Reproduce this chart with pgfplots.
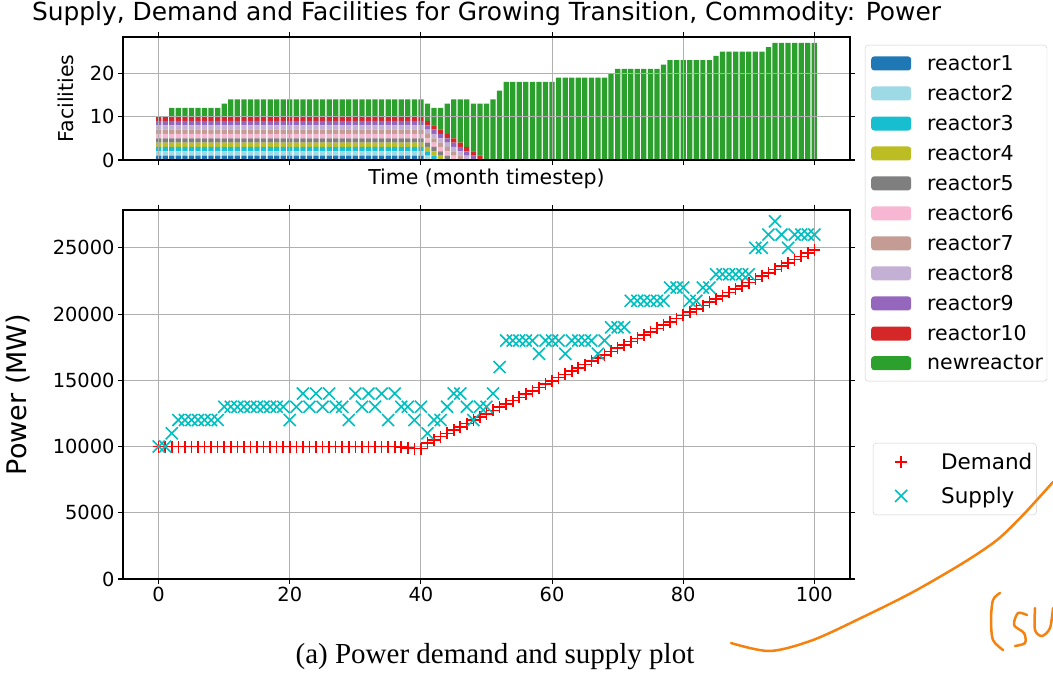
\documentclass[border=0pt]{standalone}
\usepackage{fontspec}
\setmainfont{DejaVu Sans}
\newfontfamily\capfont{Liberation Serif}
\usepackage{pgfplots}
\usepackage{pgfplotstable}
\pgfplotsset{compat=1.18}
\definecolor{cA}{HTML}{1F77B4}
\definecolor{cB}{HTML}{9EDAE5}
\definecolor{cC}{HTML}{17BECF}
\definecolor{cD}{HTML}{BCBD22}
\definecolor{cE}{HTML}{7F7F7F}
\definecolor{cF}{HTML}{F7B6D2}
\definecolor{cG}{HTML}{C49C94}
\definecolor{cH}{HTML}{C5B0D5}
\definecolor{cI}{HTML}{9467BD}
\definecolor{cJ}{HTML}{D62728}
\definecolor{cK}{HTML}{2CA02C}
\definecolor{gridgray}{HTML}{B0B0B0}
\definecolor{leggray}{HTML}{CCCCCC}
\definecolor{supcol}{HTML}{00BFBF}
\definecolor{scrib}{HTML}{F5820F}

\pgfplotstableread{
t r1 r2 r3 r4 r5 r6 r7 r8 r9 r10 new
0 1 1 1 1 1 1 1 1 1 1 0
1 1 1 1 1 1 1 1 1 1 1 0
2 1 1 1 1 1 1 1 1 1 1 2
3 1 1 1 1 1 1 1 1 1 1 2
4 1 1 1 1 1 1 1 1 1 1 2
5 1 1 1 1 1 1 1 1 1 1 2
6 1 1 1 1 1 1 1 1 1 1 2
7 1 1 1 1 1 1 1 1 1 1 2
8 1 1 1 1 1 1 1 1 1 1 2
9 1 1 1 1 1 1 1 1 1 1 2
10 1 1 1 1 1 1 1 1 1 1 3
11 1 1 1 1 1 1 1 1 1 1 4
12 1 1 1 1 1 1 1 1 1 1 4
13 1 1 1 1 1 1 1 1 1 1 4
14 1 1 1 1 1 1 1 1 1 1 4
15 1 1 1 1 1 1 1 1 1 1 4
16 1 1 1 1 1 1 1 1 1 1 4
17 1 1 1 1 1 1 1 1 1 1 4
18 1 1 1 1 1 1 1 1 1 1 4
19 1 1 1 1 1 1 1 1 1 1 4
20 1 1 1 1 1 1 1 1 1 1 4
21 1 1 1 1 1 1 1 1 1 1 4
22 1 1 1 1 1 1 1 1 1 1 4
23 1 1 1 1 1 1 1 1 1 1 4
24 1 1 1 1 1 1 1 1 1 1 4
25 1 1 1 1 1 1 1 1 1 1 4
26 1 1 1 1 1 1 1 1 1 1 4
27 1 1 1 1 1 1 1 1 1 1 4
28 1 1 1 1 1 1 1 1 1 1 4
29 1 1 1 1 1 1 1 1 1 1 4
30 1 1 1 1 1 1 1 1 1 1 4
31 1 1 1 1 1 1 1 1 1 1 4
32 1 1 1 1 1 1 1 1 1 1 4
33 1 1 1 1 1 1 1 1 1 1 4
34 1 1 1 1 1 1 1 1 1 1 4
35 1 1 1 1 1 1 1 1 1 1 4
36 1 1 1 1 1 1 1 1 1 1 4
37 1 1 1 1 1 1 1 1 1 1 4
38 1 1 1 1 1 1 1 1 1 1 4
39 1 1 1 1 1 1 1 1 1 1 4
40 1 1 1 1 1 1 1 1 1 1 4
41 0 1 1 1 1 1 1 1 1 1 4
42 0 0 1 1 1 1 1 1 1 1 4
43 0 0 0 1 1 1 1 1 1 1 5
44 0 0 0 0 1 1 1 1 1 1 7
45 0 0 0 0 0 1 1 1 1 1 9
46 0 0 0 0 0 0 1 1 1 1 10
47 0 0 0 0 0 0 0 1 1 1 11
48 0 0 0 0 0 0 0 0 1 1 11
49 0 0 0 0 0 0 0 0 0 1 12
50 0 0 0 0 0 0 0 0 0 0 13
51 0 0 0 0 0 0 0 0 0 0 14
52 0 0 0 0 0 0 0 0 0 0 16
53 0 0 0 0 0 0 0 0 0 0 18
54 0 0 0 0 0 0 0 0 0 0 18
55 0 0 0 0 0 0 0 0 0 0 18
56 0 0 0 0 0 0 0 0 0 0 18
57 0 0 0 0 0 0 0 0 0 0 18
58 0 0 0 0 0 0 0 0 0 0 18
59 0 0 0 0 0 0 0 0 0 0 18
60 0 0 0 0 0 0 0 0 0 0 18
61 0 0 0 0 0 0 0 0 0 0 19
62 0 0 0 0 0 0 0 0 0 0 19
63 0 0 0 0 0 0 0 0 0 0 19
64 0 0 0 0 0 0 0 0 0 0 19
65 0 0 0 0 0 0 0 0 0 0 19
66 0 0 0 0 0 0 0 0 0 0 19
67 0 0 0 0 0 0 0 0 0 0 19
68 0 0 0 0 0 0 0 0 0 0 19
69 0 0 0 0 0 0 0 0 0 0 20
70 0 0 0 0 0 0 0 0 0 0 21
71 0 0 0 0 0 0 0 0 0 0 21
72 0 0 0 0 0 0 0 0 0 0 21
73 0 0 0 0 0 0 0 0 0 0 21
74 0 0 0 0 0 0 0 0 0 0 21
75 0 0 0 0 0 0 0 0 0 0 21
76 0 0 0 0 0 0 0 0 0 0 21
77 0 0 0 0 0 0 0 0 0 0 22
78 0 0 0 0 0 0 0 0 0 0 23
79 0 0 0 0 0 0 0 0 0 0 23
80 0 0 0 0 0 0 0 0 0 0 23
81 0 0 0 0 0 0 0 0 0 0 23
82 0 0 0 0 0 0 0 0 0 0 23
83 0 0 0 0 0 0 0 0 0 0 23
84 0 0 0 0 0 0 0 0 0 0 23
85 0 0 0 0 0 0 0 0 0 0 24
86 0 0 0 0 0 0 0 0 0 0 25
87 0 0 0 0 0 0 0 0 0 0 25
88 0 0 0 0 0 0 0 0 0 0 25
89 0 0 0 0 0 0 0 0 0 0 25
90 0 0 0 0 0 0 0 0 0 0 25
91 0 0 0 0 0 0 0 0 0 0 25
92 0 0 0 0 0 0 0 0 0 0 25
93 0 0 0 0 0 0 0 0 0 0 26
94 0 0 0 0 0 0 0 0 0 0 27
95 0 0 0 0 0 0 0 0 0 0 27
96 0 0 0 0 0 0 0 0 0 0 27
97 0 0 0 0 0 0 0 0 0 0 27
98 0 0 0 0 0 0 0 0 0 0 27
99 0 0 0 0 0 0 0 0 0 0 27
100 0 0 0 0 0 0 0 0 0 0 27
}\facil

\pgfplotstableread{
t d s
0 10000 10000
1 10000 10000
2 10000 11000
3 10000 12000
4 10000 12000
5 10000 12000
6 10000 12000
7 10000 12000
8 10000 12000
9 10000 12000
10 10000 13000
11 10000 13000
12 10000 13000
13 10000 13000
14 10000 13000
15 10000 13000
16 10000 13000
17 10000 13000
18 10000 13000
19 10000 13000
20 10000 12000
21 10000 13000
22 10000 14000
23 10000 13000
24 10000 14000
25 10000 13000
26 10000 14000
27 10000 13000
28 10000 13000
29 10000 12000
30 10000 14000
31 10000 13000
32 10000 14000
33 10000 13000
34 10000 14000
35 10000 12000
36 10000 14000
37 9950 13000
38 9900 13000
39 9850 12000
40 9850 13000
41 10248 11000
42 10495 12000
43 10743 12000
44 10990 13000
45 11238 14000
46 11485 14000
47 11733 13000
48 11980 12000
49 12228 13000
50 12475 13000
51 12723 14000
52 12970 16000
53 13218 18000
54 13465 18000
55 13713 18000
56 13960 18000
57 14208 18000
58 14455 17000
59 14703 18000
60 14950 18000
61 15198 18000
62 15445 17000
63 15693 18000
64 15940 18000
65 16188 18000
66 16435 18000
67 16683 17000
68 16930 18000
69 17178 19000
70 17425 19000
71 17673 19000
72 17920 21000
73 18168 21000
74 18415 21000
75 18663 21000
76 18910 21000
77 19158 21000
78 19405 22000
79 19653 22000
80 19900 22000
81 20148 21000
82 20395 21000
83 20643 22000
84 20890 22000
85 21138 23000
86 21385 23000
87 21633 23000
88 21880 23000
89 22128 23000
90 22375 23000
91 22623 25000
92 22870 25000
93 23118 26000
94 23365 27000
95 23613 26000
96 23860 25000
97 24108 26000
98 24355 26000
99 24603 26000
100 24850 26000
}\power

\newcommand\tickfont{\fontsize{19.4}{23}\selectfont}
\newcommand\legfont{\fontsize{20.5}{24}\selectfont}

\pgfplotsset{
  base/.style={
    scale only axis, width=727pt,
    xmin=-5.44, xmax=105.44,
    xtick={0,20,40,60,80,100},
    grid=major, grid style={color=gridgray, line width=1.1pt},
    tick align=outside, major tick length=5pt,
    tick style={black, line width=1.1pt},
    axis line style={line width=1.1pt},
    ticklabel style={font=\tickfont},
    /pgf/number format/assume math mode=true,
    label style={font=\legfont},
  },
  rbar/.style={fill=#1, draw=none,
    legend image code/.code={\fill[fill=#1, draw=none] (4pt,-7pt) rectangle (44pt,7pt); \path[draw=none, fill=none] (0pt,0pt) -- (58pt,0pt);}},
}

\begin{document}
\begin{tikzpicture}
\useasboundingbox (0pt,0pt) rectangle (1053pt,-676pt);

\begin{axis}[base,
  at={(123pt,-160pt)}, anchor=south west, height=123pt,
  ymin=0, ymax=28.35, ytick={0,10,20},
  xticklabels={},
  ybar stacked, bar width=0.8,
  axis on top,
  xlabel={Time (month timestep)}, ylabel={Facilities},
  xlabel style={at={(axis description cs:0.5,0)}, anchor=north, yshift=-5pt},
  ylabel style={at={(axis description cs:-0.0784,0.5)}, anchor=center},
  legend style={at={(1.0206,0.935)}, anchor=north west,
    draw=leggray, rounded corners=3pt, fill=white,
    font=\legfont, row sep=9.4pt, inner xsep=2pt, inner ysep=8pt,
    nodes={inner sep=2pt}},
  legend cell align=left,
]
\addplot[rbar=cA] table[x=t,y=r1]{\facil};
\addplot[rbar=cB] table[x=t,y=r2]{\facil};
\addplot[rbar=cC] table[x=t,y=r3]{\facil};
\addplot[rbar=cD] table[x=t,y=r4]{\facil};
\addplot[rbar=cE] table[x=t,y=r5]{\facil};
\addplot[rbar=cF] table[x=t,y=r6]{\facil};
\addplot[rbar=cG] table[x=t,y=r7]{\facil};
\addplot[rbar=cH] table[x=t,y=r8]{\facil};
\addplot[rbar=cI] table[x=t,y=r9]{\facil};
\addplot[rbar=cJ] table[x=t,y=r10]{\facil};
\addplot[rbar=cK] table[x=t,y=new]{\facil};
\legend{reactor1,reactor2,reactor3,reactor4,reactor5,reactor6,reactor7,reactor8,reactor9,reactor10,newreactor}
\end{axis}

\begin{axis}[base,
  at={(123pt,-579pt)}, anchor=south west, height=369pt,
  ymin=0, ymax=27855, ytick={0,5000,10000,15000,20000,25000},
  scaled y ticks=false,
  yticklabel style={/pgf/number format/1000 sep={}},
  ylabel={Power (MW)},
  ylabel style={font=\fontsize{27}{32}\selectfont, at={(axis description cs:-0.1444,0.5)}, anchor=center},
  legend style={at={(1.0316,0.3686)}, anchor=north west,
    draw=leggray, rounded corners=3pt, fill=white,
    font=\fontsize{21.5}{25}\selectfont, row sep=12pt, inner xsep=2pt, inner ysep=8pt,
    nodes={inner sep=2pt}},
  legend cell align=left,
  legend image code/.code={\draw[#1] plot coordinates {(26pt,0pt)}; \path[draw=none, fill=none] (0pt,0pt) -- (64pt,0pt);},
]
\addplot[only marks, mark=+, mark size=6pt, red, line width=1.6pt] table[x=t,y=d]{\power};
\addplot[only marks, mark=x, mark size=8.5pt, supcol, line width=1.6pt] table[x=t,y=s]{\power};
\legend{Demand,Supply}
\end{axis}

\node[font=\fontsize{24.9}{30}\selectfont] at (486.5pt,-14pt) {Supply, Demand and Facilities for Growing Transition, Commodity: Power};
\node[font=\capfont\fontsize{29}{34}\selectfont] at (495pt,-657pt) {(a) Power demand and supply plot};

\draw[scrib, line width=2.5pt, line cap=round] plot[smooth] coordinates {(731pt,-643pt) (770pt,-651pt) (813pt,-640pt) (863pt,-617pt) (913pt,-592pt) (963pt,-563pt) (997pt,-540pt) (1023pt,-515pt) (1053pt,-482pt)};
\draw[scrib, line width=2.5pt, line cap=round] plot[smooth] coordinates {(1000pt,-593pt) (993pt,-600pt) (991pt,-620pt) (993pt,-640pt) (1003pt,-650pt)};
\draw[scrib, line width=2.5pt, line cap=round] plot[smooth] coordinates {(1027pt,-615pt) (1018pt,-613pt) (1014pt,-625pt) (1024pt,-633pt) (1025pt,-643pt) (1015pt,-646pt)};
\draw[scrib, line width=2.5pt, line cap=round] plot[smooth] coordinates {(1035pt,-608pt) (1035pt,-630pt) (1042pt,-636pt) (1050pt,-628pt) (1053pt,-608pt)};
\end{tikzpicture}
\end{document}
